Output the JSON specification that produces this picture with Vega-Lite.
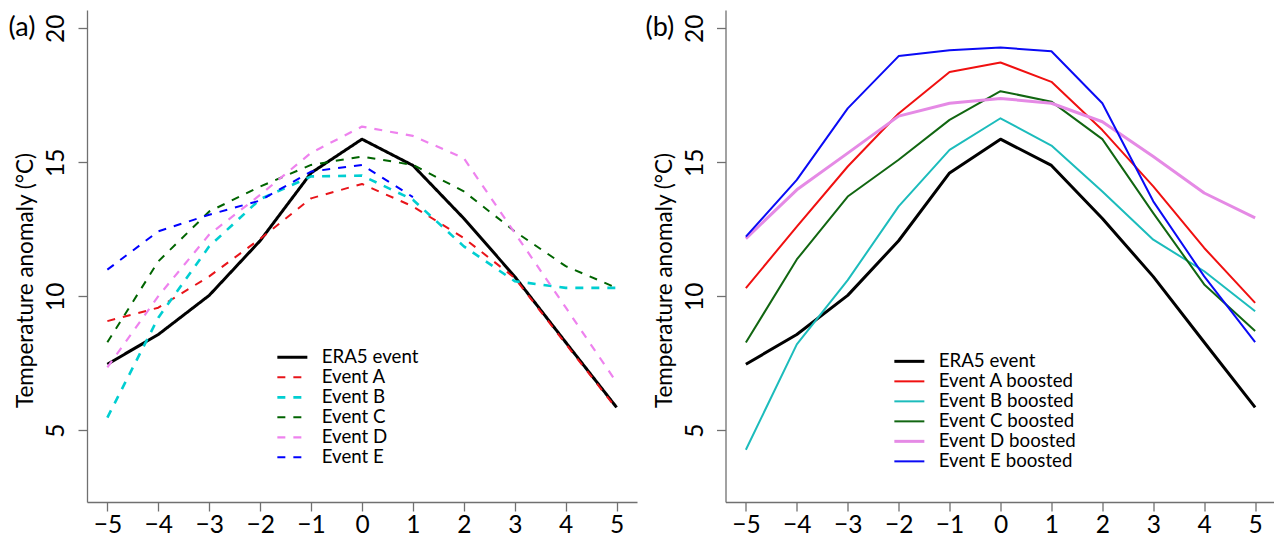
{
  "$schema": "https://vega.github.io/schema/vega-lite/v6.json",
  "background": "white",
  "padding": {"left": 8, "top": 10, "right": 0, "bottom": 6},
  "spacing": 88.5,
  "bounds": "flush",
  "config": {
    "view": {"stroke": null},
    "font": "Lato",
    "axis": {
      "labelFont": "Lato", "labelFontSize": 24.5, "labelColor": "black",
      "titleFont": "Lato", "titleFontSize": 22.5, "titleFontWeight": "normal", "titleColor": "black",
      "domainColor": "#707070", "tickColor": "#707070", "domainWidth": 1.3, "tickWidth": 1.3,
      "tickSize": 9, "grid": false, "labelOverlap": false, "labelFlush": false
    },
    "axisX": {"labelPadding": 2},
    "axisY": {
      "labelAngle": 270, "labelAlign": "center", "labelBaseline": "alphabetic", "labelPadding": 14.5,
      "titleAngle": 270, "titleAlign": "center", "titleBaseline": "alphabetic", "titleX": -54.5, "titleY": 270
    },
    "legend": {
      "orient": "none", "title": null, "symbolType": "M-2,0H2", "symbolSize": 225,
      "labelFont": "Lato", "labelFontSize": 18.7, "labelColor": "black", "padding": 0, "rowPadding": 0,
      "labelOffset": 20
    },
    "line": {"strokeCap": "butt", "strokeJoin": "round"}
  },
  "datasets": {
    "a": [
      {"x": -5, "y": 7.46, "series": "ERA5 event"}, {"x": -4, "y": 8.57, "series": "ERA5 event"}, {"x": -3, "y": 10.03, "series": "ERA5 event"}, {"x": -2, "y": 12.07, "series": "ERA5 event"}, {"x": -1, "y": 14.6, "series": "ERA5 event"}, {"x": 0, "y": 15.86, "series": "ERA5 event"}, {"x": 1, "y": 14.88, "series": "ERA5 event"}, {"x": 2, "y": 12.9, "series": "ERA5 event"}, {"x": 3, "y": 10.73, "series": "ERA5 event"}, {"x": 4, "y": 8.28, "series": "ERA5 event"}, {"x": 5, "y": 5.85, "series": "ERA5 event"},
      {"x": -5, "y": 9.07, "series": "Event A"}, {"x": -4, "y": 9.57, "series": "Event A"}, {"x": -3, "y": 10.74, "series": "Event A"}, {"x": -2, "y": 12.14, "series": "Event A"}, {"x": -1, "y": 13.65, "series": "Event A"}, {"x": 0, "y": 14.19, "series": "Event A"}, {"x": 1, "y": 13.35, "series": "Event A"}, {"x": 2, "y": 12.17, "series": "Event A"}, {"x": 3, "y": 10.68, "series": "Event A"}, {"x": 4, "y": 8.22, "series": "Event A"}, {"x": 5, "y": 5.8, "series": "Event A"},
      {"x": -5, "y": 5.47, "series": "Event B"}, {"x": -4, "y": 9.2, "series": "Event B"}, {"x": -3, "y": 11.86, "series": "Event B"}, {"x": -2, "y": 13.62, "series": "Event B"}, {"x": -1, "y": 14.47, "series": "Event B"}, {"x": 0, "y": 14.5, "series": "Event B"}, {"x": 1, "y": 13.6, "series": "Event B"}, {"x": 2, "y": 11.86, "series": "Event B"}, {"x": 3, "y": 10.56, "series": "Event B"}, {"x": 4, "y": 10.31, "series": "Event B"}, {"x": 5, "y": 10.31, "series": "Event B"},
      {"x": -5, "y": 8.28, "series": "Event C"}, {"x": -4, "y": 11.3, "series": "Event C"}, {"x": -3, "y": 13.16, "series": "Event C"}, {"x": -2, "y": 14.09, "series": "Event C"}, {"x": -1, "y": 14.9, "series": "Event C"}, {"x": 0, "y": 15.21, "series": "Event C"}, {"x": 1, "y": 14.9, "series": "Event C"}, {"x": 2, "y": 13.91, "series": "Event C"}, {"x": 3, "y": 12.42, "series": "Event C"}, {"x": 4, "y": 11.12, "series": "Event C"}, {"x": 5, "y": 10.31, "series": "Event C"},
      {"x": -5, "y": 7.34, "series": "Event D"}, {"x": -4, "y": 10.0, "series": "Event D"}, {"x": -3, "y": 12.3, "series": "Event D"}, {"x": -2, "y": 13.78, "series": "Event D"}, {"x": -1, "y": 15.35, "series": "Event D"}, {"x": 0, "y": 16.33, "series": "Event D"}, {"x": 1, "y": 15.98, "series": "Event D"}, {"x": 2, "y": 15.15, "series": "Event D"}, {"x": 3, "y": 12.36, "series": "Event D"}, {"x": 4, "y": 9.58, "series": "Event D"}, {"x": 5, "y": 6.78, "series": "Event D"},
      {"x": -5, "y": 10.99, "series": "Event E"}, {"x": -4, "y": 12.42, "series": "Event E"}, {"x": -3, "y": 13.04, "series": "Event E"}, {"x": -2, "y": 13.57, "series": "Event E"}, {"x": -1, "y": 14.65, "series": "Event E"}, {"x": 0, "y": 14.9, "series": "Event E"}, {"x": 1, "y": 13.7, "series": "Event E"}
    ],
    "b": [
      {"x": -5, "y": 7.46, "series": "ERA5 event"}, {"x": -4, "y": 8.57, "series": "ERA5 event"}, {"x": -3, "y": 10.03, "series": "ERA5 event"}, {"x": -2, "y": 12.07, "series": "ERA5 event"}, {"x": -1, "y": 14.6, "series": "ERA5 event"}, {"x": 0, "y": 15.86, "series": "ERA5 event"}, {"x": 1, "y": 14.88, "series": "ERA5 event"}, {"x": 2, "y": 12.9, "series": "ERA5 event"}, {"x": 3, "y": 10.73, "series": "ERA5 event"}, {"x": 4, "y": 8.28, "series": "ERA5 event"}, {"x": 5, "y": 5.85, "series": "ERA5 event"},
      {"x": -5, "y": 10.3, "series": "Event A boosted"}, {"x": -4, "y": 12.6, "series": "Event A boosted"}, {"x": -3, "y": 14.84, "series": "Event A boosted"}, {"x": -2, "y": 16.82, "series": "Event A boosted"}, {"x": -1, "y": 18.37, "series": "Event A boosted"}, {"x": 0, "y": 18.72, "series": "Event A boosted"}, {"x": 1, "y": 18.0, "series": "Event A boosted"}, {"x": 2, "y": 16.2, "series": "Event A boosted"}, {"x": 3, "y": 14.1, "series": "Event A boosted"}, {"x": 4, "y": 11.8, "series": "Event A boosted"}, {"x": 5, "y": 9.75, "series": "Event A boosted"},
      {"x": -5, "y": 4.27, "series": "Event B boosted"}, {"x": -4, "y": 8.2, "series": "Event B boosted"}, {"x": -3, "y": 10.6, "series": "Event B boosted"}, {"x": -2, "y": 13.35, "series": "Event B boosted"}, {"x": -1, "y": 15.46, "series": "Event B boosted"}, {"x": 0, "y": 16.64, "series": "Event B boosted"}, {"x": 1, "y": 15.62, "series": "Event B boosted"}, {"x": 2, "y": 13.91, "series": "Event B boosted"}, {"x": 3, "y": 12.11, "series": "Event B boosted"}, {"x": 4, "y": 10.93, "series": "Event B boosted"}, {"x": 5, "y": 9.44, "series": "Event B boosted"},
      {"x": -5, "y": 8.27, "series": "Event C boosted"}, {"x": -4, "y": 11.37, "series": "Event C boosted"}, {"x": -3, "y": 13.72, "series": "Event C boosted"}, {"x": -2, "y": 15.09, "series": "Event C boosted"}, {"x": -1, "y": 16.58, "series": "Event C boosted"}, {"x": 0, "y": 17.65, "series": "Event C boosted"}, {"x": 1, "y": 17.26, "series": "Event C boosted"}, {"x": 2, "y": 15.86, "series": "Event C boosted"}, {"x": 3, "y": 13.1, "series": "Event C boosted"}, {"x": 4, "y": 10.44, "series": "Event C boosted"}, {"x": 5, "y": 8.7, "series": "Event C boosted"},
      {"x": -5, "y": 12.15, "series": "Event D boosted"}, {"x": -4, "y": 13.97, "series": "Event D boosted"}, {"x": -3, "y": 15.34, "series": "Event D boosted"}, {"x": -2, "y": 16.72, "series": "Event D boosted"}, {"x": -1, "y": 17.2, "series": "Event D boosted"}, {"x": 0, "y": 17.38, "series": "Event D boosted"}, {"x": 1, "y": 17.2, "series": "Event D boosted"}, {"x": 2, "y": 16.51, "series": "Event D boosted"}, {"x": 3, "y": 15.21, "series": "Event D boosted"}, {"x": 4, "y": 13.85, "series": "Event D boosted"}, {"x": 5, "y": 12.92, "series": "Event D boosted"},
      {"x": -5, "y": 12.22, "series": "Event E boosted"}, {"x": -4, "y": 14.34, "series": "Event E boosted"}, {"x": -3, "y": 17.01, "series": "Event E boosted"}, {"x": -2, "y": 18.96, "series": "Event E boosted"}, {"x": -1, "y": 19.18, "series": "Event E boosted"}, {"x": 0, "y": 19.28, "series": "Event E boosted"}, {"x": 1, "y": 19.14, "series": "Event E boosted"}, {"x": 2, "y": 17.2, "series": "Event E boosted"}, {"x": 3, "y": 13.54, "series": "Event E boosted"}, {"x": 4, "y": 10.74, "series": "Event E boosted"}, {"x": 5, "y": 8.29, "series": "Event E boosted"}
    ]
  },
  "resolve": {
    "scale": {"x": "independent", "y": "independent", "color": "independent", "strokeDash": "independent", "strokeWidth": "independent"},
    "legend": {"color": "independent", "strokeDash": "independent", "strokeWidth": "independent"}
  },
  "hconcat": [
    {
      "width": 550, "height": 492,
      "title": {"text": "(a)", "anchor": "start", "frame": "group", "orient": "top", "offset": -45, "dx": -78.5, "baseline": "middle", "fontSize": 27, "font": "Lato", "fontWeight": "normal", "color": "black"},
      "data": {"name": "a"},
      "mark": {"type": "line"},
      "encoding": {
        "x": {"field": "x", "type": "quantitative", "scale": {"domain": [-5.4, 5.4], "nice": false, "zero": false}, "axis": {"values": [-5, -4, -3, -2, -1, 0, 1, 2, 3, 4, 5], "title": null}},
        "y": {"field": "y", "type": "quantitative", "scale": {"domain": [2.32, 20.68], "nice": false, "zero": false}, "axis": {"values": [5, 10, 15, 20], "title": "Temperature anomaly (°C)"}},
        "color": {"field": "series", "type": "nominal",
          "scale": {"domain": ["ERA5 event", "Event A", "Event B", "Event C", "Event D", "Event E"], "range": ["#000000", "#E8141A", "#00CED1", "#006400", "#EE82EE", "#0000FF"]},
          "legend": {"legendX": 196, "legendY": 338, "encode": {"labels": {"update": {"fontSize": {"value": 20.5}}}}}},
        "strokeDash": {"field": "series", "type": "nominal",
          "scale": {"domain": ["ERA5 event", "Event A", "Event B", "Event C", "Event D", "Event E"], "range": [[1, 0], [8, 8], [8, 8], [8, 8], [8, 8], [8, 8]]},
          "legend": {"legendX": 196, "legendY": 338, "encode": {"labels": {"update": {"fontSize": {"value": 20.5}}}}}},
        "strokeWidth": {"field": "series", "type": "nominal",
          "scale": {"type": "ordinal", "domain": ["ERA5 event", "Event A", "Event B", "Event C", "Event D", "Event E"], "range": [3, 2, 2.6, 2, 2.2, 2]},
          "legend": {"legendX": 196, "legendY": 338, "encode": {"labels": {"update": {"fontSize": {"value": 20.5}}}}}},
        "order": {"field": "x", "type": "quantitative"}
      }
    },
    {
      "width": 550, "height": 492,
      "title": {"text": "(b)", "anchor": "start", "frame": "group", "orient": "top", "offset": -45, "dx": -80, "baseline": "middle", "fontSize": 27, "font": "Lato", "fontWeight": "normal", "color": "black"},
      "data": {"name": "b"},
      "mark": {"type": "line"},
      "encoding": {
        "x": {"field": "x", "type": "quantitative", "scale": {"domain": [-5.4, 5.4], "nice": false, "zero": false}, "axis": {"values": [-5, -4, -3, -2, -1, 0, 1, 2, 3, 4, 5], "title": null}},
        "y": {"field": "y", "type": "quantitative", "scale": {"domain": [2.32, 20.68], "nice": false, "zero": false}, "axis": {"values": [5, 10, 15, 20], "title": "Temperature anomaly (°C)"}},
        "color": {"field": "series", "type": "nominal",
          "scale": {"domain": ["ERA5 event", "Event A boosted", "Event B boosted", "Event C boosted", "Event D boosted", "Event E boosted"], "range": ["#000000", "#F01010", "#1CBCBC", "#116611", "#E58AE5", "#0A0AF5"]},
          "legend": {"legendX": 174.5, "legendY": 342, "encode": {"labels": {"update": {"fontSize": {"value": 21}}}}}},
        "strokeWidth": {"field": "series", "type": "nominal",
          "scale": {"type": "ordinal", "domain": ["ERA5 event", "Event A boosted", "Event B boosted", "Event C boosted", "Event D boosted", "Event E boosted"], "range": [3, 2, 2, 2, 3, 2]},
          "legend": {"legendX": 174.5, "legendY": 342, "encode": {"labels": {"update": {"fontSize": {"value": 21}}}}}},
        "order": {"field": "x", "type": "quantitative"}
      }
    }
  ]
}
